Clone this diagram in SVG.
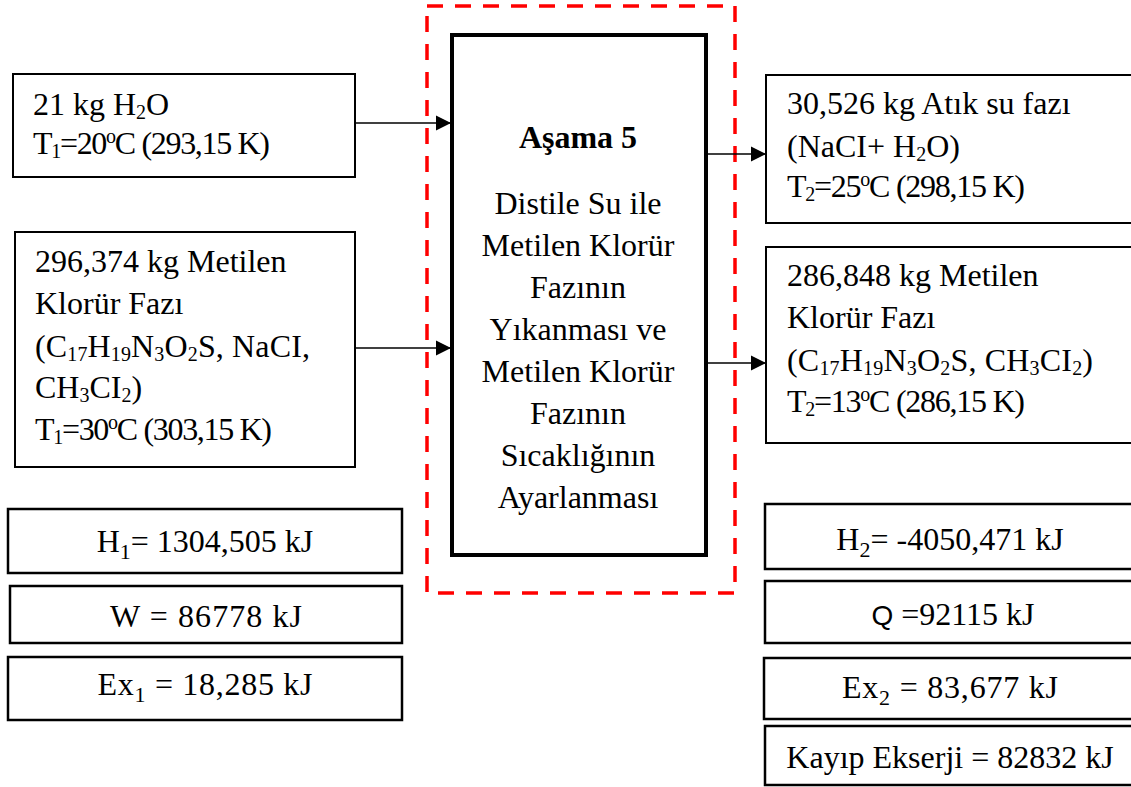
<svg xmlns="http://www.w3.org/2000/svg" width="1131" height="787" viewBox="0 0 1131 787">
  <defs>
    <style>
      .t { font-family: "Liberation Serif", "Times New Roman", serif; font-size: 32px; fill: #000; }
      .c { text-anchor: middle; }
      .b { font-weight: bold; }
      .s { font-size: 20px; }
      .ms { font-size: 22px; }
      .box { fill: #fff; stroke: #000; stroke-width: 2; }
      .vbox { fill: #fff; stroke: #000; stroke-width: 2.5; }
      .main { fill: #fff; stroke: #000; stroke-width: 4; }
      .frame { fill: none; stroke: #ff0000; stroke-width: 3.5; stroke-dasharray: 16 12; }
      .flow { fill: none; stroke: #000; stroke-width: 1.6; marker-end: url(#arrow); }
    </style>
    <marker id="arrow" markerUnits="userSpaceOnUse" markerWidth="16" markerHeight="16" viewBox="0 0 16 16" refX="15" refY="8" orient="auto">
      <path d="M0,0.5 L15,8 L0,15.5 Z" fill="#000"/>
    </marker>
  </defs>

  <!-- stage boundary -->
  <rect class="frame" x="427" y="6" width="308" height="587"/>

  <!-- process block -->
  <g id="stage5">
    <rect class="main" x="452" y="35" width="254" height="520"/>
    <text class="t c b" x="578" y="148">Aşama 5</text>
    <text class="t c" x="578" y="214">Distile Su ile</text>
    <text class="t c" x="578" y="256">Metilen Klorür</text>
    <text class="t c" x="578" y="298">Fazının</text>
    <text class="t c" x="578" y="340">Yıkanması ve</text>
    <text class="t c" x="578" y="382">Metilen Klorür</text>
    <text class="t c" x="578" y="424">Fazının</text>
    <text class="t c" x="578" y="466">Sıcaklığının</text>
    <text class="t c" x="578" y="508">Ayarlanması</text>
  </g>

  <!-- inlet streams -->
  <g id="in-water">
    <rect class="box" x="13" y="74" width="342" height="103"/>
    <text class="t" x="33" y="115">21 kg H<tspan class="s" dy="4">2</tspan><tspan dy="-4">O</tspan></text>
    <text class="t" x="33" y="154" textLength="237">T<tspan class="s" dy="4">1</tspan><tspan dy="-4">=20</tspan><tspan class="s" dy="-11">o</tspan><tspan dy="11">C (293,15 K)</tspan></text>
  </g>

  <g id="in-organic">
    <rect class="box" x="15" y="232" width="340" height="235"/>
    <text class="t" x="35" y="272">296,374 kg Metilen</text>
    <text class="t" x="35" y="314">Klorür Fazı</text>
    <text class="t" x="35" y="357" textLength="275">(C<tspan class="s" dy="4">17</tspan><tspan dy="-4">H</tspan><tspan class="s" dy="4">19</tspan><tspan dy="-4">N</tspan><tspan class="s" dy="4">3</tspan><tspan dy="-4">O</tspan><tspan class="s" dy="4">2</tspan><tspan dy="-4">S, NaCI,</tspan></text>
    <text class="t" x="35" y="398">CH<tspan class="s" dy="4">3</tspan><tspan dy="-4">CI</tspan><tspan class="s" dy="4">2</tspan><tspan dy="-4">)</tspan></text>
    <text class="t" x="35" y="440" textLength="237">T<tspan class="s" dy="4">1</tspan><tspan dy="-4">=30</tspan><tspan class="s" dy="-11">o</tspan><tspan dy="11">C (303,15 K)</tspan></text>
  </g>

  <!-- outlet streams -->
  <g id="out-water">
    <rect class="box" x="766" y="75" width="380" height="148"/>
    <text class="t" x="787" y="114">30,526 kg Atık su fazı</text>
    <text class="t" x="787" y="157">(NaCI+ H<tspan class="s" dy="4">2</tspan><tspan dy="-4">O)</tspan></text>
    <text class="t" x="787" y="197" textLength="238">T<tspan class="s" dy="4">2</tspan><tspan dy="-4">=25</tspan><tspan class="s" dy="-11">o</tspan><tspan dy="11">C (298,15 K)</tspan></text>
  </g>

  <g id="out-organic">
    <rect class="box" x="766" y="247" width="380" height="196"/>
    <text class="t" x="787" y="286">286,848 kg Metilen</text>
    <text class="t" x="787" y="328">Klorür Fazı</text>
    <text class="t" x="787" y="371" textLength="306">(C<tspan class="s" dy="4">17</tspan><tspan dy="-4">H</tspan><tspan class="s" dy="4">19</tspan><tspan dy="-4">N</tspan><tspan class="s" dy="4">3</tspan><tspan dy="-4">O</tspan><tspan class="s" dy="4">2</tspan><tspan dy="-4">S, CH</tspan><tspan class="s" dy="4">3</tspan><tspan dy="-4">CI</tspan><tspan class="s" dy="4">2</tspan><tspan dy="-4">)</tspan></text>
    <text class="t" x="787" y="412" textLength="238">T<tspan class="s" dy="4">2</tspan><tspan dy="-4">=13</tspan><tspan class="s" dy="-11">o</tspan><tspan dy="11">C (286,15 K)</tspan></text>
  </g>

  <!-- energy and exergy values, inlet side -->
  <g id="h1">
    <rect class="vbox" x="8" y="509" width="394" height="64"/>
    <text class="t c" x="205" y="552">H<tspan class="ms" dy="7">1</tspan><tspan dy="-7">= 1304,505 kJ</tspan></text>
  </g>
  <g id="w">
    <rect class="vbox" x="10" y="586" width="392" height="57"/>
    <text class="t c" x="206" y="627" textLength="192">W = 86778 kJ</text>
  </g>
  <g id="ex1">
    <rect class="vbox" x="8" y="657" width="394" height="63"/>
    <text class="t c" x="205" y="695" textLength="215">Ex<tspan class="ms" dy="7">1</tspan><tspan dy="-7"> = 18,285 kJ</tspan></text>
  </g>

  <!-- energy and exergy values, outlet side -->
  <g id="h2">
    <rect class="vbox" x="765" y="504" width="380" height="65"/>
    <text class="t c" x="950" y="550">H<tspan class="ms" dy="7">2</tspan><tspan dy="-7">= -4050,471 kJ</tspan></text>
  </g>
  <g id="q">
    <rect class="vbox" x="765" y="581" width="380" height="62"/>
    <text class="t c" x="953" y="625"><tspan style="font-family: 'Liberation Sans', Arial, sans-serif; font-size: 28px">Q</tspan> =92115 kJ</text>
  </g>
  <g id="ex2">
    <rect class="vbox" x="764" y="658" width="381" height="61"/>
    <text class="t c" x="950" y="698" textLength="216">Ex<tspan class="ms" dy="7">2</tspan><tspan dy="-7"> = 83,677 kJ</tspan></text>
  </g>
  <g id="exergy-loss">
    <rect class="vbox" x="765" y="726" width="380" height="59"/>
    <text class="t c" x="950" y="768">Kayıp Ekserji = 82832 kJ</text>
  </g>

  <!-- stream connectors -->
  <g id="connectors">
    <line class="flow" x1="356" y1="123" x2="451" y2="123"/>
    <line class="flow" x1="356" y1="348" x2="451" y2="348"/>
    <line class="flow" x1="706" y1="154" x2="766" y2="154"/>
    <line class="flow" x1="706" y1="363" x2="766" y2="363"/>
  </g>
</svg>
